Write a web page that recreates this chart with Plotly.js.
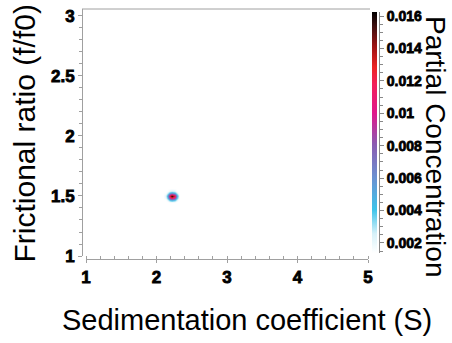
<!DOCTYPE html>
<html>
<head>
<meta charset="utf-8">
<script src="https://cdn.plot.ly/plotly-3.0.1.min.js"></script>
<style>
html,body{margin:0;padding:0;background:#fff;}
#chart{width:452px;height:343px;}
#chart .xtick text, #chart .ytick text, #chart .y2tick text { stroke: #000; stroke-width: 0.8px; }
</style>
</head>
<body>
<div id="chart"></div>
<script>
// Sedimentation coefficient grid (S)
const sValues = [2.13, 2.16, 2.19, 2.22, 2.25, 2.28, 2.31];
// Frictional ratio grid (f/f0)
const ratioValues = [1.455, 1.47, 1.485, 1.50, 1.515, 1.53, 1.545];
// Partial concentration (rows follow ratioValues, columns follow sValues)
const concentration = [
  [0.0008, 0.0012, 0.0018, 0.0020, 0.0018, 0.0012, 0.0008],
  [0.0012, 0.0025, 0.0045, 0.0055, 0.0045, 0.0025, 0.0012],
  [0.0018, 0.0045, 0.0095, 0.0125, 0.0095, 0.0045, 0.0018],
  [0.0020, 0.0055, 0.0125, 0.0163, 0.0125, 0.0055, 0.0020],
  [0.0018, 0.0045, 0.0095, 0.0125, 0.0095, 0.0045, 0.0018],
  [0.0012, 0.0025, 0.0045, 0.0055, 0.0045, 0.0025, 0.0012],
  [0.0008, 0.0012, 0.0018, 0.0020, 0.0018, 0.0012, 0.0008]
];
const zMin = 0.00138;
const zMax = 0.01625;

// Tick labels
const xTickVals = [1, 2, 3, 4, 5];
const xTickText = ['1', '2', '3', '4', '5'];
const yTickVals = [1, 1.5, 2, 2.5, 3];
const yTickText = ['1', '1.5', '2', '2.5', '3'];
const cTickVals = [0.002, 0.004, 0.006, 0.008, 0.010, 0.012, 0.014, 0.016];
const cTickText = ['0.002', '0.004', '0.006', '0.008', '0.01', '0.012', '0.014', '0.016'];

const bold = arr => arr.map(t => '<b>' + t + '</b>');

const FONT = 'Liberation Sans, Arial, sans-serif';
const AXIS_GRAY = '#a0a0a0';

const colorscale = [
  [0.00, '#ffffff'],
  [0.08, '#d6f1f9'],
  [0.18, '#3ec4ea'],
  [0.31, '#6a92d2'],
  [0.45, '#8a5cb2'],
  [0.58, '#e0188c'],
  [0.70, '#f2205a'],
  [0.77, '#ec2424'],
  [0.86, '#9a1414'],
  [0.94, '#401010'],
  [1.00, '#000000']
];

const W = 452, H = 343;
const ml = 82, mr = 30, mt = 9, mb = 84;
const pw = W - ml - mr, ph = H - mt - mb;
const px = p => (p - ml) / pw;          // pixel x -> paper x
const py = p => (H - mb - p) / ph;      // pixel y -> paper y

const heat = {
  type: 'heatmap',
  x: sValues,
  y: ratioValues,
  z: concentration,
  zmin: zMin,
  zmax: zMax,
  zsmooth: 'best',
  colorscale: colorscale,
  hoverinfo: 'skip',
  colorbar: {
    x: px(372), xanchor: 'left', xpad: 0,
    y: py(12), yanchor: 'top', ypad: 0,
    thickness: 5, thicknessmode: 'pixels',
    len: 241, lenmode: 'pixels',
    outlinewidth: 0,
    ticks: '', showticklabels: false
  }
};

const dummy = { type: 'scatter', x: [], y: [], yaxis: 'y2', hoverinfo: 'skip', showlegend: false };

const tickFont = { family: FONT, size: 17, color: '#000' };

const layout = {
  width: W, height: H,
  margin: { l: ml, r: mr, t: mt, b: mb, pad: 0 },
  paper_bgcolor: '#fff', plot_bgcolor: 'rgba(0,0,0,0)',
  showlegend: false,
  xaxis: {
    domain: [px(86), px(368)],
    range: [1, 5],
    anchor: 'free', position: 0,
    showline: true, linecolor: AXIS_GRAY, linewidth: 1,
    showgrid: false, zeroline: false,
    ticks: 'outside', ticklen: 3, tickcolor: AXIS_GRAY,
    tickmode: 'array', tickvals: xTickVals, ticktext: bold(xTickText),
    minor: { tickmode: 'linear', tick0: 1, dtick: 0.2, ticks: 'inside', ticklen: 3, tickcolor: AXIS_GRAY, showgrid: false },
    tickfont: tickFont
  },
  yaxis: {
    domain: [py(256), 1],
    range: [1, 3.058],
    anchor: 'free', position: 0,
    showline: true, linecolor: AXIS_GRAY, linewidth: 1,
    showgrid: false, zeroline: false,
    ticks: 'outside', ticklen: 4, tickcolor: AXIS_GRAY,
    tickmode: 'array', tickvals: yTickVals, ticktext: bold(yTickText),
    minor: { tickmode: 'linear', tick0: 1, dtick: 0.1, ticks: 'outside', ticklen: 3, tickcolor: AXIS_GRAY, showgrid: false },
    tickfont: tickFont
  },
  yaxis2: {
    domain: [py(253), py(12)],
    range: [zMin, zMax],
    anchor: 'free', position: px(379), side: 'right',
    showline: true, linecolor: '#888', linewidth: 1,
    showgrid: false, zeroline: false,
    ticks: 'outside', ticklen: 4, tickcolor: '#888',
    tickmode: 'array', tickvals: cTickVals, ticktext: bold(cTickText),
    minor: { tickmode: 'linear', tick0: 0, dtick: 0.0005, ticks: 'outside', ticklen: 3, tickcolor: '#888', showgrid: false },
    tickfont: { family: FONT, size: 14, color: '#000' },
    fixedrange: true
  },
  shapes: [
    { type: 'line', xref: 'paper', yref: 'paper', x0: 0, x1: px(370), y0: 1, y1: 1,
      line: { color: AXIS_GRAY, width: 1 } }
  ],
  annotations: [
    { text: 'Sedimentation coefficient (S)', xref: 'paper', yref: 'paper',
      x: px(246.5), y: py(320), xanchor: 'center', yanchor: 'middle', showarrow: false,
      font: { family: FONT, size: 29, color: '#000' } },
    { text: 'Frictional ratio (f/f0)', xref: 'paper', yref: 'paper', textangle: -90,
      x: px(24), y: py(133.5), xanchor: 'center', yanchor: 'middle', showarrow: false,
      font: { family: FONT, size: 30, color: '#000' } },
    { text: 'Partial Concentration', xref: 'paper', yref: 'paper', textangle: 90,
      x: px(436), y: py(146), xanchor: 'center', yanchor: 'middle', showarrow: false,
      font: { family: FONT, size: 28, color: '#000' } }
  ]
};

Plotly.newPlot('chart', [heat, dummy], layout, { displayModeBar: false, staticPlot: true });
</script>
</body>
</html>
